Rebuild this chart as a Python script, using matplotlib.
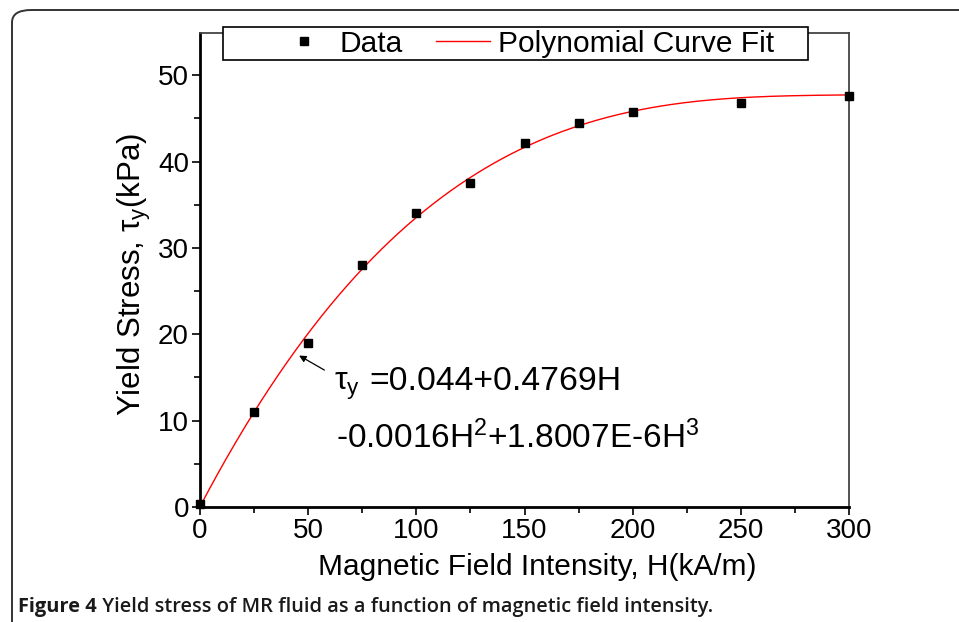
import numpy as np
import matplotlib
matplotlib.use("Agg")
import matplotlib.pyplot as plt
from matplotlib.patches import FancyBboxPatch, Rectangle
from matplotlib.ticker import MultipleLocator

# measured data
H = [0, 25, 50, 75, 100, 125, 150, 175, 200, 250, 300]
tau = [0.3, 11.0, 19.0, 28.0, 34.0, 37.5, 42.2, 44.5, 45.7, 46.8, 47.6]
# fit coefficients as printed on the chart (c0 + c1 H + c2 H^2 + c3 H^3)
fit_coef = [0.044, 0.4769, -0.0016, 1.8007e-6]

plt.rcParams['font.family'] = ['Liberation Sans', 'DejaVu Sans']
plt.rcParams['mathtext.fontset'] = 'custom'
plt.rcParams['mathtext.rm'] = 'Liberation Sans'
plt.rcParams['mathtext.it'] = 'Liberation Sans'
plt.rcParams['mathtext.default'] = 'regular'

fig = plt.figure(figsize=(9.59, 6.22), dpi=100)

# rounded frame around the figure
frame = FancyBboxPatch((12 / 959, -0.2), 1.2, 1 - 10 / 622 + 0.2,
                       boxstyle="round,pad=0,rounding_size=0.02",
                       transform=fig.transFigure, fill=False,
                       ec='#333333', lw=1.4, clip_on=False)
fig.patches.append(frame)

ax = fig.add_axes([200 / 959, 1 - 507 / 622, 649 / 959, 474 / 622])

Hs = np.linspace(0, 300, 301)
ax.plot(Hs, np.polynomial.polynomial.polyval(Hs, fit_coef), color='red', lw=1.0,
        label='Polynomial Curve Fit', zorder=2)
ax.plot(H, tau, 's', color='black', ms=6, label='Data', clip_on=False, zorder=3)

ax.set_xlim(0, 300)
ax.set_ylim(0, 54.9)
ax.xaxis.set_major_locator(MultipleLocator(50))
ax.xaxis.set_minor_locator(MultipleLocator(25))
ax.yaxis.set_major_locator(MultipleLocator(10))
ax.yaxis.set_minor_locator(MultipleLocator(5))
ax.tick_params(which='both', direction='out', top=False, right=False,
               labelsize=20, width=1.2, color='black')
ax.tick_params(which='major', length=6, pad=2)
ax.tick_params(which='minor', length=4)

for s in ['left', 'bottom']:
    ax.spines[s].set_linewidth(2.0)
    ax.spines[s].set_color('black')
for s in ['top', 'right']:
    ax.spines[s].set_linewidth(1.3)
    ax.spines[s].set_color('#444444')

ax.set_xlabel('Magnetic Field Intensity, H(kA/m)', fontsize=21.5)
ax.xaxis.set_label_coords(0.519, -0.097)
ax.set_ylabel(r'Yield Stress, $\tau_y$(kPa)', fontsize=22.5)
ax.yaxis.set_label_coords(-0.073, 0.49)

# legend: white box drawn over the top spine, entries without frame on top
ax.add_patch(Rectangle((23 / 649, (507 - 60) / 474), 585 / 649, 33 / 474,
                       transform=ax.transAxes, fc='white', ec='black', lw=1.2,
                       clip_on=False, zorder=5))
handles, labels = ax.get_legend_handles_labels()
leg = ax.legend(handles[::-1], labels[::-1], ncol=2, loc='center',
                bbox_to_anchor=(0.502, (507 - 43.5) / 474), fontsize=21.5,
                frameon=False, borderpad=0, borderaxespad=0,
                handlelength=1.8, columnspacing=1.1, handletextpad=0.3)
leg.set_zorder(6)

ax.annotate('', xy=(44.7, 17.7), xytext=(58.6, 15.7),
            arrowprops=dict(arrowstyle='-|>', color='black', lw=0.9,
                            mutation_scale=10))
ax.text(62.0, 13.6, r'$\tau_y$', fontsize=23, va='baseline', ha='left')
ax.text(78.3, 13.6, '=0.044+0.4769H', fontsize=24.3, va='baseline', ha='left')
ax.text(63.0, 6.8, r'-0.0016H$^2$+1.8007E-6H$^3$', fontsize=24,
        va='baseline', ha='left')

# caption
cap1 = fig.text(18 / 959, 1 - 612 / 622, 'Figure 4', fontsize=14.4,
                fontweight='bold', family='Open Sans', color='#1a1a1a')
plt.annotate(' Yield stress of MR fluid as a function of magnetic field intensity.',
             xy=(1, 0), xycoords=cap1, fontsize=14.4, fontweight='semibold',
             family='Open Sans', color='#1a1a1a', va='bottom', ha='left')

fig.savefig('out.png', dpi=100)
